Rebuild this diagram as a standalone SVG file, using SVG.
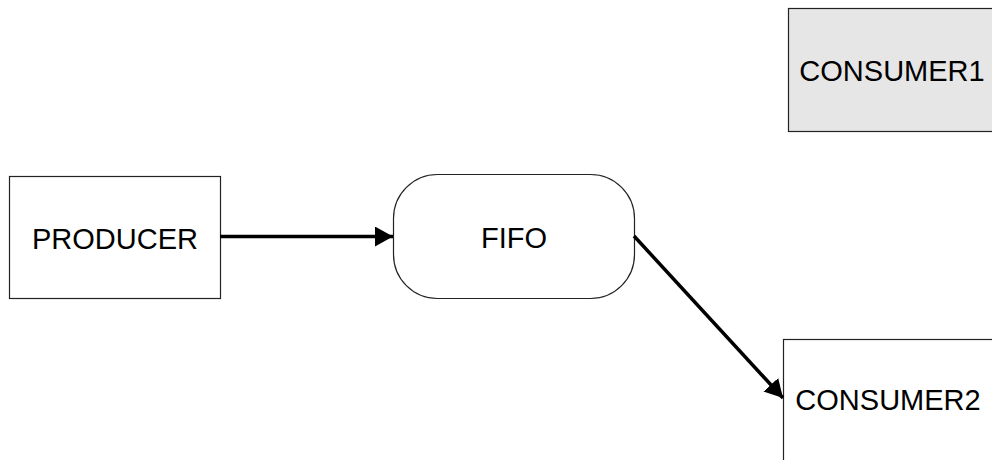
<svg xmlns="http://www.w3.org/2000/svg" width="992" height="460" viewBox="0 0 992 460">
<style>
.box{fill:#ffffff;stroke:#222222;stroke-width:1.2}
.gray{fill:#e6e6e6}
.lbl{font-family:"Liberation Sans",Arial,sans-serif;font-size:29px;fill:#000000;text-anchor:middle}
.conn{stroke:#000000;stroke-width:3.5;fill:none}
</style>
<defs>
<marker id="arr" markerUnits="userSpaceOnUse" markerWidth="20" markerHeight="20" viewBox="0 0 20 20" refX="18" refY="10" orient="auto">
<path d="M0,0 L18,10 L0,20 Z" fill="#000000"/>
</marker>
</defs>
<rect width="992" height="460" fill="#ffffff"/>
<g id="consumer1">
<rect class="box gray" x="788.5" y="8.5" width="210" height="123"/>
<text class="lbl" x="892" y="81">CONSUMER1</text>
</g>
<g id="producer">
<rect class="box" x="9.5" y="176.5" width="211" height="122"/>
<text class="lbl" x="115" y="249">PRODUCER</text>
</g>
<g id="fifo">
<rect class="box" x="393.5" y="174.5" width="241" height="124" rx="44" ry="44"/>
<text class="lbl" x="514" y="248">FIFO</text>
</g>
<g id="consumer2">
<rect class="box" x="783.5" y="339.5" width="215" height="130"/>
<text class="lbl" x="888" y="410">CONSUMER2</text>
</g>
<g id="connectors">
<line class="conn" x1="220" y1="236.5" x2="393" y2="236.5" marker-end="url(#arr)"/>
<line class="conn" x1="634" y1="236" x2="783" y2="398" marker-end="url(#arr)"/>
</g>
</svg>
